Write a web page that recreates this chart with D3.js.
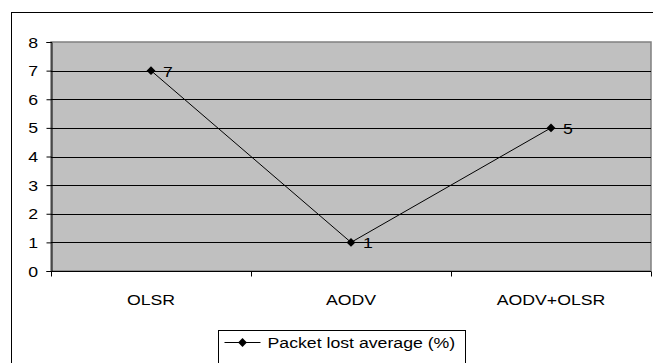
<!DOCTYPE html>
<html>
<head>
<meta charset="utf-8">
<script src="https://cdn.jsdelivr.net/npm/d3@7"></script>
<style>
  html, body { margin: 0; padding: 0; background: #fff; }
  svg { display: block; font-family: "Liberation Sans", Arial, sans-serif; }
</style>
</head>
<body>
<div id="chart"></div>
<script>
const categories = ['OLSR', 'AODV', 'AODV+OLSR'];
const lossValues = [7, 1, 5];
const yTicks = [0, 1, 2, 3, 4, 5, 6, 7, 8];
const seriesName = 'Packet lost average (%)';

const width = 653;
const height = 363;
const stretch = 1.18; // text in the original is drawn a bit wide

const plot = { left: 51, top: 42, right: 651, bottom: 271 };

const svg = d3.select('#chart')
  .append('svg')
  .attr('width', width)
  .attr('height', height);

// Places text at (x, y) with the horizontal stretch applied.
function wideText(sel, xf, yf) {
  return sel
    .attr('x', 0)
    .attr('y', 0)
    .attr('transform', (d, i) => `translate(${xf(d, i)},${yf(d, i)}) scale(${stretch},1)`)
    .attr('font-size', 15)
    .attr('fill', '#000');
}

// Outer chart frame (extends past the window on the right and bottom).
svg.append('rect')
  .attr('x', 11.5)
  .attr('y', 12.5)
  .attr('width', 660)
  .attr('height', 380)
  .attr('fill', '#fff')
  .attr('stroke', '#000')
  .attr('stroke-width', 1);

const x = d3.scaleBand()
  .domain(categories)
  .range([plot.left, plot.right]);

const y = d3.scaleLinear()
  .domain([0, 8])
  .range([plot.bottom, plot.top]);

// Plot area.
svg.append('rect')
  .attr('x', plot.left)
  .attr('y', plot.top)
  .attr('width', plot.right - plot.left)
  .attr('height', plot.bottom - plot.top)
  .attr('fill', '#c0c0c0')
  .attr('stroke', '#808080')
  .attr('stroke-width', 1.5);

// Gridlines.
svg.append('g')
  .selectAll('line')
  .data(yTicks.filter(d => d > 0 && d < 8))
  .join('line')
  .attr('x1', plot.left)
  .attr('x2', plot.right)
  .attr('y1', d => Math.round(y(d)) + 0.5)
  .attr('y2', d => Math.round(y(d)) + 0.5)
  .attr('stroke', '#000')
  .attr('stroke-width', 1);

// Y axis.
const yAxis = svg.append('g')
  .attr('transform', `translate(${plot.left + 0.5},0)`)
  .call(d3.axisLeft(y).tickValues(yTicks).tickSize(5).tickFormat(''));
yAxis.select('.domain').attr('stroke', '#000');
yAxis.selectAll('.tick line').attr('stroke', '#000');

svg.append('g')
  .selectAll('text')
  .data(yTicks)
  .join('text')
  .call(wideText, () => 38, d => y(d) + 5.5)
  .attr('text-anchor', 'end')
  .text(d => d);

// X axis (ticks between categories).
const xAxisG = svg.append('g')
  .attr('transform', `translate(0,${plot.bottom + 0.5})`);
xAxisG.append('line')
  .attr('x1', plot.left)
  .attr('x2', plot.right)
  .attr('stroke', '#000');
const boundaries = categories.map(c => x(c)).concat([x.range()[1]]);
xAxisG.selectAll('.xtick')
  .data(boundaries)
  .join('line')
  .attr('class', 'xtick')
  .attr('x1', d => Math.round(d) + 0.5)
  .attr('x2', d => Math.round(d) + 0.5)
  .attr('y1', 0)
  .attr('y2', 5)
  .attr('stroke', '#000');
xAxisG.selectAll('.xlabel')
  .data(categories)
  .join('text')
  .attr('class', 'xlabel')
  .call(wideText, d => x(d) + x.bandwidth() / 2, () => 33)
  .attr('text-anchor', 'middle')
  .text(d => d);

// Series.
const points = categories.map((c, i) => ({ cat: c, value: lossValues[i] }));
const line = d3.line()
  .x(d => x(d.cat) + x.bandwidth() / 2)
  .y(d => y(d.value));

svg.append('path')
  .datum(points)
  .attr('d', line)
  .attr('fill', 'none')
  .attr('stroke', '#000')
  .attr('stroke-width', 1);

const diamond = d3.symbol().type(d3.symbolDiamond2).size(50);

svg.append('g')
  .selectAll('path')
  .data(points)
  .join('path')
  .attr('transform', d => `translate(${x(d.cat) + x.bandwidth() / 2},${y(d.value)})`)
  .attr('d', diamond)
  .attr('fill', '#000');

svg.append('g')
  .selectAll('text')
  .data(points)
  .join('text')
  .call(wideText, d => x(d.cat) + x.bandwidth() / 2 + 12, d => y(d.value) + 6)
  .text(d => d.value);

// Legend.
const legend = svg.append('g').attr('transform', 'translate(218.5,330.5)');
legend.append('rect')
  .attr('width', 247)
  .attr('height', 40)
  .attr('fill', '#fff')
  .attr('stroke', '#000');
legend.append('line')
  .attr('x1', 6)
  .attr('x2', 42)
  .attr('y1', 12)
  .attr('y2', 12)
  .attr('stroke', '#000');
legend.append('path')
  .attr('transform', 'translate(24,12)')
  .attr('d', diamond)
  .attr('fill', '#000');
legend.append('text')
  .datum(seriesName)
  .call(wideText, () => 49, () => 17.5)
  .text(d => d);
</script>
</body>
</html>
